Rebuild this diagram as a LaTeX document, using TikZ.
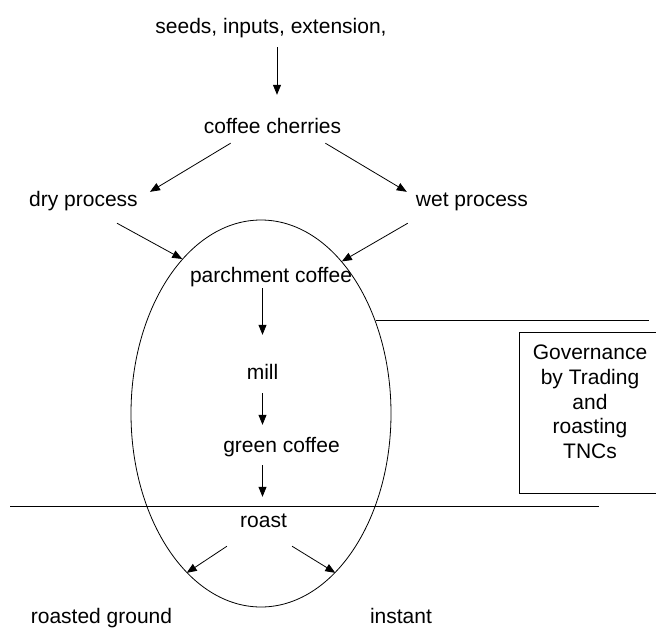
\documentclass[tikz,border=0pt]{standalone}
\usepackage{fontspec}
\setmainfont{Liberation Sans}
\usetikzlibrary{arrows.meta,shapes.geometric,positioning}

\begin{document}
\begin{tikzpicture}[x=1pt,y=-1pt,
  every node/.style={font=\fontsize{21}{24.6}\selectfont,inner sep=0pt},
  lbl/.style={anchor=base,text height=15pt,text depth=4pt},
  arr/.style={-{Triangle[length=10pt,width=8pt]},line width=0.8pt}]
\clip(0,0)rectangle(656,627);
% chain of stages
\node[lbl](seeds)at(271,33){seeds, inputs, extension,};
\node[lbl](cherries)at(272.5,133){coffee cherries};
\node[lbl](dry)at(83.5,206){dry process};
\node[lbl](wet)at(472,206){wet process};
\node[lbl](parch)at(271,282){parchment coffee};
\node[lbl](mill)at(262.5,379){mill};
\node[lbl](green)at(281.5,452){green coffee};
\node[lbl](roast)at(263.5,527){roast};
\node[lbl](ground)at(101.5,623){roasted ground};
\node[lbl](instant)at(401,623){instant};
\node[draw,ellipse,minimum width=260pt,minimum height=387pt,line width=0.8pt](bean)at(261,413.5){};
% governance
\node[draw,line width=0.8pt,minimum width=150pt,minimum height=161pt,anchor=north west](govbox)at(519,332){};
\node[align=center,anchor=north](gov)at(590,345){Governance\\by Trading\\and\\roasting\\TNCs};
\coordinate(gline)at(649,322);
\draw[line width=0.8pt](bean.39)--(bean.39-|gline);
\coordinate(cutL)at(10,506);
\coordinate(cutR)at(599,506);
\draw[line width=1pt](cutL)--(cutR);
% arrows
\draw[arr,shorten <=10pt,shorten >=23pt]([xshift=6pt]seeds.south)--([xshift=4.5pt]cherries.north);
\draw[arr]([xshift=27pt,yshift=-6pt]cherries.south west)--([xshift=12pt,yshift=-1pt]dry.north east);
\draw[arr]([xshift=-16pt,yshift=-6pt]cherries.south east)--([xshift=-9pt,yshift=-1pt]wet.north west);
\draw[arr]([xshift=-21pt,yshift=-13pt]dry.south east)--(bean.117);
\draw[arr]([xshift=-8pt,yshift=-13pt]wet.south west)--(bean.62);
\draw[arr,shorten <=2pt,shorten >=29pt](parch.south-|mill.north)--(mill.north);
\draw[arr,shorten <=10pt,shorten >=12pt](mill.south)--(mill.south|-green.north);
\draw[arr,shorten <=9pt,shorten >=15pt](green.south-|mill.south)--(roast.north-|mill.south);
\draw[arr]([xshift=-13pt,yshift=-15pt]roast.south west)--(bean.245);
\draw[arr]([xshift=5pt,yshift=-15pt]roast.south east)--(bean.-65);
\end{tikzpicture}
\end{document}
